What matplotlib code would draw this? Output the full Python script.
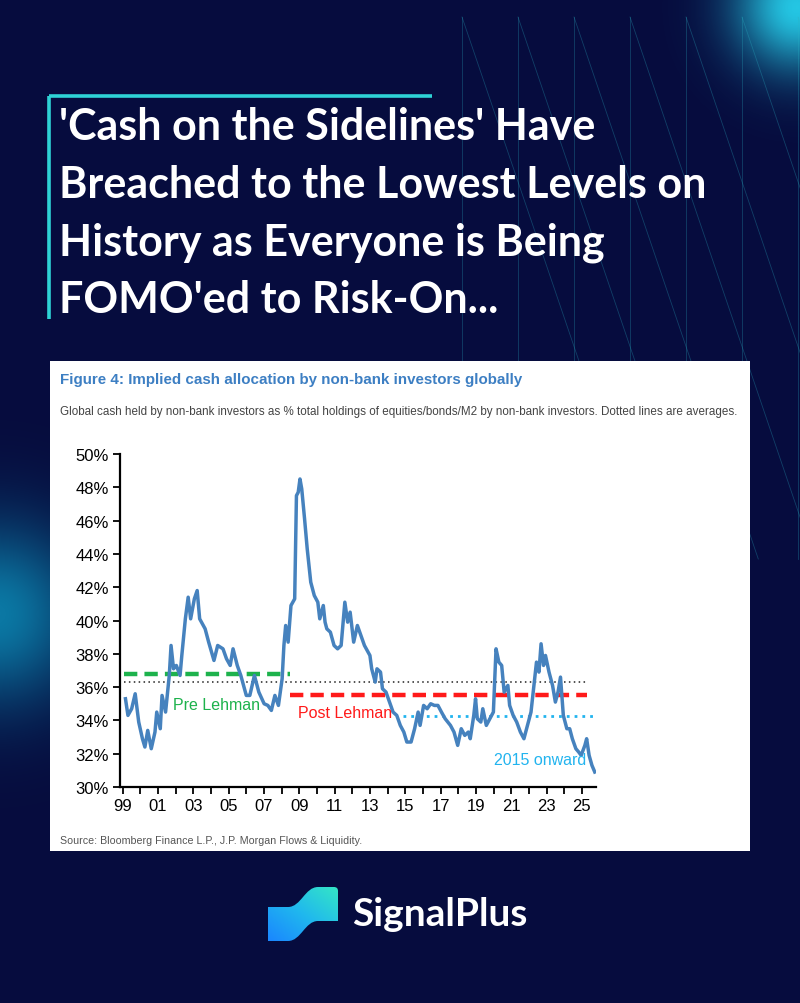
import numpy as np
import matplotlib
matplotlib.use("Agg")
import matplotlib.pyplot as plt
from matplotlib.patches import Rectangle, PathPatch
from matplotlib.path import Path
from matplotlib.colors import LinearSegmentedColormap

# ---- data ----
years = [1999.16, 1999.30, 1999.51, 1999.71, 1999.91, 2000.12, 2000.26, 2000.42, 2000.62, 2000.83,
         2000.93, 2001.13, 2001.23, 2001.43, 2001.64, 2001.74, 2001.88, 2002.04, 2002.25, 2002.35,
         2002.55, 2002.71, 2002.85, 2003.06, 2003.22, 2003.36, 2003.67, 2003.87, 2004.17, 2004.38,
         2004.68, 2004.88, 2005.09, 2005.25, 2005.49, 2005.69, 2006.00, 2006.20, 2006.46, 2006.71,
         2007.01, 2007.22, 2007.42, 2007.62, 2007.82, 2008.03, 2008.13, 2008.23, 2008.37, 2008.53,
         2008.74, 2008.84, 2008.94, 2009.04, 2009.14, 2009.30, 2009.45, 2009.65, 2009.85, 2010.05,
         2010.16, 2010.36, 2010.46, 2010.56, 2010.76, 2010.97, 2011.17, 2011.37, 2011.58, 2011.74,
         2011.88, 2012.08, 2012.29, 2012.49, 2012.69, 2013.00, 2013.10, 2013.30, 2013.40, 2013.60,
         2013.71, 2013.91, 2014.11, 2014.31, 2014.52, 2014.72, 2014.92, 2015.09, 2015.33, 2015.53,
         2015.73, 2015.84, 2016.04, 2016.24, 2016.44, 2016.65, 2016.85, 2017.05, 2017.26, 2017.56,
         2017.76, 2017.97, 2018.17, 2018.37, 2018.57, 2018.68, 2018.88, 2018.98, 2019.08, 2019.28,
         2019.39, 2019.59, 2019.79, 2019.99, 2020.14, 2020.30, 2020.46, 2020.60, 2020.81, 2020.91,
         2021.11, 2021.31, 2021.52, 2021.72, 2021.92, 2022.12, 2022.33, 2022.43, 2022.57, 2022.69,
         2022.83, 2022.94, 2023.14, 2023.34, 2023.50, 2023.65, 2023.79, 2023.95, 2024.15, 2024.31,
         2024.46, 2024.66, 2024.82, 2024.96, 2025.17, 2025.27, 2025.41, 2025.57, 2025.73]
cash_pct = [35.3, 34.3, 34.7, 35.6, 33.9, 32.9, 32.4, 33.4, 32.3, 33.3,
            34.5, 33.5, 35.5, 34.5, 36.7, 38.5, 37.1, 37.3, 36.7, 37.9,
            40.1, 41.4, 40.1, 41.3, 41.8, 40.1, 39.5, 38.7, 37.6, 38.5,
            38.3, 37.7, 37.3, 38.3, 37.3, 36.7, 35.5, 35.5, 36.7, 35.7,
            35.0, 34.9, 34.6, 35.5, 34.9, 36.5, 38.5, 39.7, 38.7, 40.9,
            41.3, 47.5, 47.7, 48.5, 47.9, 46.1, 44.3, 42.3, 41.5, 41.1,
            40.1, 40.9, 39.9, 39.5, 39.3, 38.5, 38.3, 38.5, 41.1, 39.9,
            40.5, 38.7, 39.7, 39.1, 38.5, 37.9, 37.1, 36.3, 37.1, 36.9,
            35.9, 35.7, 35.1, 34.5, 34.3, 33.7, 33.3, 32.7, 32.7, 33.5,
            34.5, 33.7, 34.9, 34.7, 35.0, 34.9, 34.9, 34.5, 34.1, 33.7,
            33.3, 32.5, 33.5, 33.1, 33.3, 32.9, 34.3, 35.3, 34.1, 33.9,
            34.7, 33.7, 34.1, 34.5, 38.3, 37.5, 37.3, 35.7, 36.1, 34.9,
            34.3, 33.9, 33.3, 32.9, 33.7, 34.5, 36.5, 37.5, 36.9, 38.6,
            37.3, 37.9, 36.9, 36.1, 35.1, 35.7, 36.6, 34.3, 33.5, 33.5,
            32.9, 32.3, 32.1, 31.9, 32.5, 32.9, 31.9, 31.3, 30.9]

avg_all = 36.3
avg_pre = 36.76
avg_post = 35.5
avg_2015 = 34.25
pre_span = (1999.05, 2008.5)
post_span = (2008.45, 2025.3)
all_span = (1999.05, 2025.3)
recent_span = (2014.85, 2025.75)

tick_years = list(range(1999, 2026))
tick_labels = [f"{y % 100:02d}" if y % 2 == 1 else "" for y in tick_years]
pct_ticks = list(range(30, 52, 2))

title_lines = ["'Cash on the Sidelines' Have",
               "Breached to the Lowest Levels on",
               "History as Everyone is Being",
               "FOMO'ed to Risk-On..."]

BG = "#060c3e"
SANS = ["Liberation Sans", "DejaVu Sans"]

fig = plt.figure(figsize=(8, 10.04), dpi=100)
fig.patch.set_facecolor(BG)

# background layer in pixel coordinates
bg = fig.add_axes([0, 0, 1, 1])
bg.set_xlim(0, 800)
bg.set_ylim(1004, 0)
bg.axis("off")
bg.set_facecolor(BG)


def glow(cx, cy, r, rgb, alpha, box):
    x0, x1, y0, y1 = box
    xx, yy = np.meshgrid(np.linspace(x0, x1, 200), np.linspace(y0, y1, 200))
    d = np.hypot(xx - cx, yy - cy) / r
    img = np.zeros((200, 200, 4))
    img[..., :3] = rgb
    img[..., 3] = alpha * np.exp(-d ** 2)
    bg.imshow(img, extent=(x0, x1, y1, y0), zorder=1, interpolation="bilinear")


glow(798, 8, 62, (0.15, 0.82, 0.93), 0.95, (600, 800, 0, 200))
glow(-5, 615, 90, (0.05, 0.55, 0.72), 0.85, (0, 260, 420, 830))

# thin diagonal decoration lines
for x0 in [462, 518, 574, 630, 686, 742, 798]:
    bg.plot([x0, x0], [18, 560], color="#2bb6c8", lw=0.6, alpha=0.3, zorder=2)
    bg.plot([x0, x0 + 0.34 * 542], [18, 560], color="#2bb6c8", lw=0.6, alpha=0.3, zorder=2)

# title bracket + title
bg.plot([49, 432], [97, 97], color="#2ed3d6", lw=2.6, solid_capstyle="butt", zorder=3)
bg.plot([49, 49], [97, 320], color="#2ed3d6", lw=2.6, solid_capstyle="butt", zorder=3)
for i, line in enumerate(title_lines):
    bg.text(59, 140 + i * 57.7, line, color="white", fontsize=31, fontweight="bold",
            family=["Lato", "DejaVu Sans"], va="baseline", ha="left", zorder=3)

# white panel holding the chart
bg.add_patch(Rectangle((50, 362), 700, 490, facecolor="white", edgecolor="none", zorder=4))
bg.text(60, 380, "Figure 4: Implied cash allocation by non-bank investors globally",
        color="#3d7fc3", fontsize=10.9, fontweight="bold", family=SANS,
        va="center", ha="left", zorder=5)
bg.text(60, 412, "Global cash held by non-bank investors as % total holdings of equities/bonds/M2 "
        "by non-bank investors. Dotted lines are averages.",
        color="#444444", fontsize=8.4, family=SANS, va="center", ha="left", zorder=5)
bg.text(60, 841, "Source: Bloomberg Finance L.P., J.P. Morgan Flows & Liquidity.",
        color="#555555", fontsize=7.7, family=SANS, va="center", ha="left", zorder=5)

# logo
icon = Path([(268, 908), (288, 908), (301, 908), (305, 888), (318, 888), (334, 888),
             (338, 888), (338, 892), (338, 922), (318, 922), (305, 922), (301, 942),
             (288, 942), (268, 942), (268, 908)],
            [Path.MOVETO, Path.LINETO, Path.CURVE4, Path.CURVE4, Path.CURVE4, Path.LINETO,
             Path.CURVE3, Path.CURVE3, Path.LINETO, Path.LINETO, Path.CURVE4, Path.CURVE4,
             Path.CURVE4, Path.LINETO, Path.CLOSEPOLY])
patch = PathPatch(icon, facecolor="none", edgecolor="none", zorder=5)
bg.add_patch(patch)
cmap = LinearSegmentedColormap.from_list("logo", ["#1a86ff", "#20b8ee", "#34e6c6"])
gx, gy = np.meshgrid(np.linspace(0, 1, 100), np.linspace(0, 1, 100))
grad = (gx + (1 - gy)) / 2
im = bg.imshow(grad, cmap=cmap, extent=(268, 338, 942, 888), zorder=5, interpolation="bilinear")
im.set_clip_path(patch)
bg.text(352, 915, "SignalPlus", color="white", fontsize=28, fontweight="bold",
        family=["Lato", "DejaVu Sans"], va="center", ha="left", zorder=5)

# ---- the chart itself ----
ax = fig.add_axes([120 / 800, 1 - 788 / 1004, 476 / 800, 333 / 1004])
ax.set_zorder(6)
ax.patch.set_alpha(0)
ax.set_xlim(1998.85, 2025.8)
ax.set_ylim(30, 50)

ax.plot(all_span, [avg_all, avg_all], color="#222222", lw=1.1, ls=(0, (1, 2.2)), zorder=2)
ax.plot(pre_span, [avg_pre, avg_pre], color="#1db24c", lw=3.2, ls=(0, (3, 1.6)), zorder=2)
ax.plot(post_span, [avg_post, avg_post], color="#ff1a1a", lw=3.2, ls=(0, (3, 1.6)), zorder=2)
ax.plot(recent_span, [avg_2015, avg_2015], color="#22b4ef", lw=2.0, ls=(0, (1, 1.8)), zorder=2)
ax.plot(years, cash_pct, color="#4682be", lw=2.5, zorder=3, solid_joinstyle="round")

ax.text(2001.85, 34.94, "Pre Lehman", color="#1db24c", fontsize=11.5, family=SANS,
        va="center", ha="left")
ax.text(2008.9, 34.46, "Post Lehman", color="#ff1a1a", fontsize=11.5, family=SANS,
        va="center", ha="left")
ax.text(2020.0, 31.66, "2015 onward", color="#22b4ef", fontsize=11.5, family=SANS,
        va="center", ha="left")

for s in ["top", "right"]:
    ax.spines[s].set_visible(False)
for s in ["left", "bottom"]:
    ax.spines[s].set_linewidth(1.6)
ax.set_yticks(pct_ticks)
ax.set_yticklabels([f"{p}%" for p in pct_ticks])
ax.set_xticks(tick_years)
ax.set_xticklabels(tick_labels)
ax.tick_params(axis="both", direction="out", length=5, width=1.3, labelsize=12, pad=3)
for lab in ax.get_xticklabels() + ax.get_yticklabels():
    lab.set_family(SANS)

fig.savefig("out.png", dpi=100, facecolor=BG)
